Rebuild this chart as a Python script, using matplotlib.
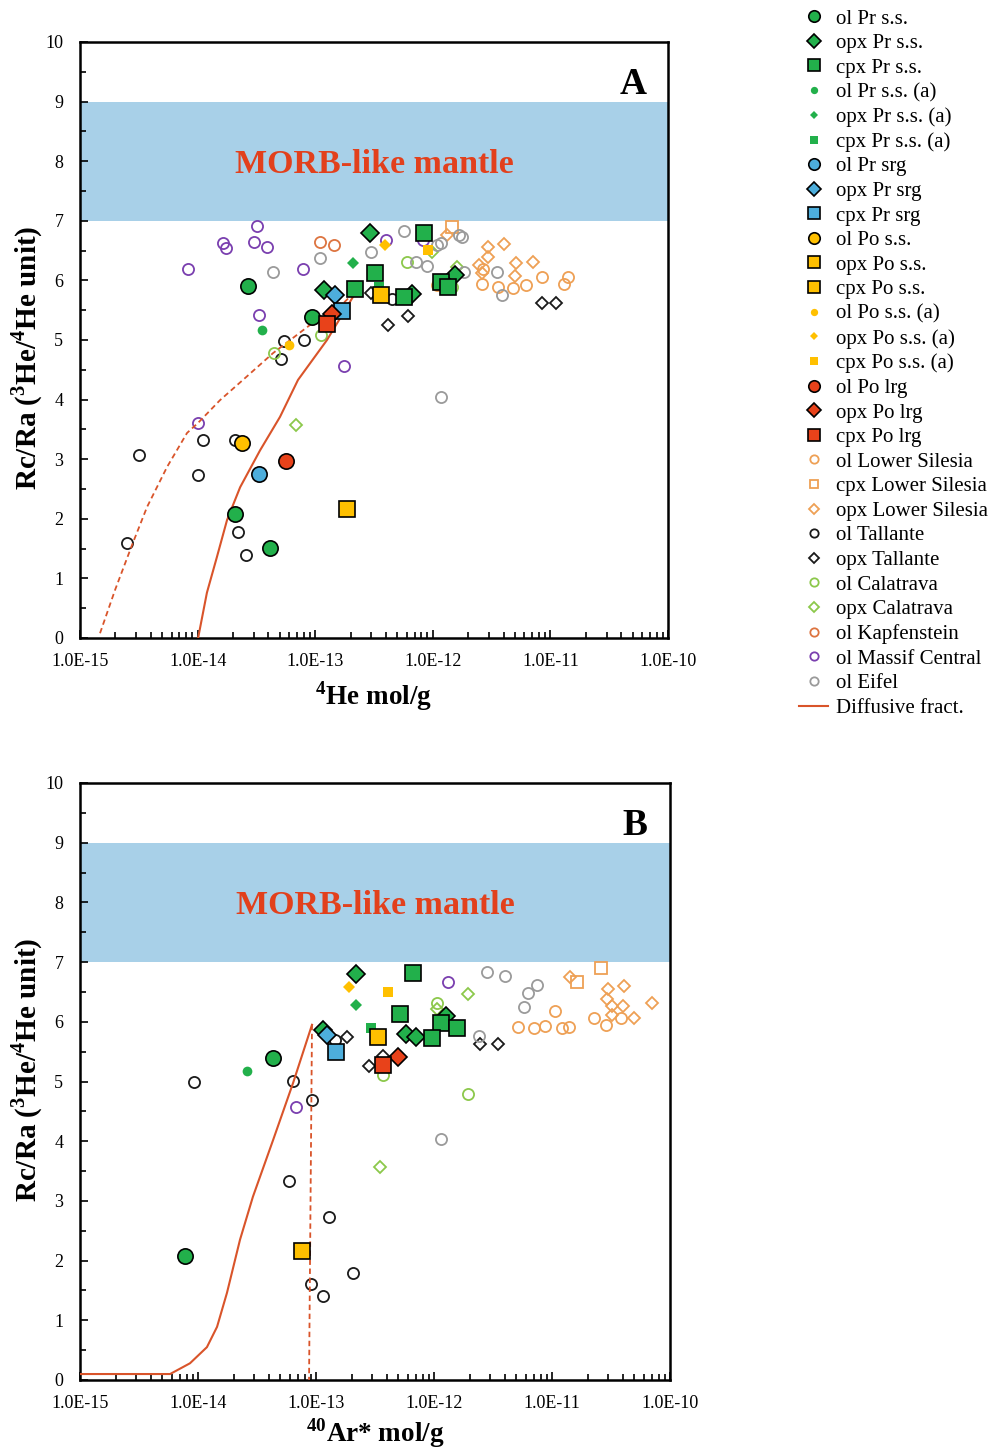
import numpy as np
import matplotlib
matplotlib.use("Agg")
import matplotlib.pyplot as plt
from matplotlib.lines import Line2D
from matplotlib.ticker import FuncFormatter, FixedLocator, LogLocator, MultipleLocator, NullFormatter

plt.rcParams['font.family'] = ['Liberation Serif', 'DejaVu Serif']
plt.rcParams['mathtext.fontset'] = 'custom'
plt.rcParams['mathtext.rm'] = 'Liberation Serif'
plt.rcParams['mathtext.bf'] = 'Liberation Serif:bold'

x_ticks = [1e-15, 1e-14, 1e-13, 1e-12, 1e-11, 1e-10]

# ---- panel A data : 4He mol/g vs Rc/Ra ----
olPrss_A_x = [2.7e-14, 9.4e-14, 2.1e-14, 4.1e-14]
olPrss_A_y = [5.91, 5.39, 2.08, 1.51]
opxPrss_A_x = [2.9e-13, 1.19e-13, 6.65e-13, 1.55e-12]
opxPrss_A_y = [6.80, 5.84, 5.77, 6.09]
cpxPrss_A_x = [2.2e-13, 3.2e-13, 8.4e-13, 5.7e-13, 1.17e-12, 1.35e-12]
cpxPrss_A_y = [5.86, 6.12, 6.80, 5.72, 5.97, 5.89]
olPrssa_A_x, olPrssa_A_y = [3.5e-14], [5.17]
opxPrssa_A_x, opxPrssa_A_y = [2.1e-13], [6.29]
cpxPrssa_A_x, cpxPrssa_A_y = [3.5e-13], [5.89]
olPrsrg_A_x, olPrsrg_A_y = [3.3e-14], [2.75]
opxPrsrg_A_x, opxPrsrg_A_y = [1.47e-13], [5.76]
cpxPrsrg_A_x, cpxPrsrg_A_y = [1.69e-13], [5.49]
olPoss_A_x, olPoss_A_y = [2.4e-14], [3.27]
opxPoss_A_x, opxPoss_A_y = [3.6e-13], [5.76]
cpxPoss_A_x, cpxPoss_A_y = [1.86e-13], [2.16]
olPossa_A_x, olPossa_A_y = [6.0e-14], [4.92]
opxPossa_A_x, opxPossa_A_y = [3.9e-13], [6.59]
cpxPossa_A_x, cpxPossa_A_y = [9.1e-13], [6.51]
olPolrg_A_x, olPolrg_A_y = [5.6e-14], [2.97]
opxPolrg_A_x, opxPolrg_A_y = [1.39e-13], [5.44]
cpxPolrg_A_x, cpxPolrg_A_y = [1.26e-13], [5.27]
olLS_A_x = [1.09e-12, 2.67e-12, 2.62e-12, 3.58e-12, 4.81e-12, 6.2e-12, 8.5e-12, 1.31e-11, 1.41e-11]
olLS_A_y = [5.92, 6.19, 5.94, 5.89, 5.87, 5.92, 6.06, 5.94, 6.06]
cpxLS_A_x, cpxLS_A_y = [1.46e-12], [6.90]
opxLS_A_x = [1.32e-12, 2.94e-12, 4.03e-12, 2.94e-12, 2.47e-12, 2.62e-12, 5.1e-12, 5.0e-12, 7.1e-12]
opxLS_A_y = [6.76, 6.56, 6.61, 6.39, 6.26, 6.12, 6.29, 6.07, 6.31]
olTal_A_x = [3.2e-15, 2.5e-15, 1.11e-14, 1.0e-14, 2.1e-14, 2.2e-14, 2.6e-14, 5.4e-14, 5.1e-14, 8.0e-14, 4.5e-13]
olTal_A_y = [3.07, 1.59, 3.32, 2.73, 3.32, 1.78, 1.39, 4.98, 4.68, 5.00, 5.69]
opxTal_A_x = [4.2e-13, 6.2e-13, 8.5e-12, 1.12e-11, 3.0e-13]
opxTal_A_y = [5.25, 5.40, 5.62, 5.62, 5.79]
olCal_A_x = [4.5e-14, 1.12e-13, 6.0e-13, 1.46e-12]
olCal_A_y = [4.78, 5.08, 6.31, 5.89]
opxCal_A_x = [6.9e-14, 9.8e-13, 1.61e-12]
opxCal_A_y = [3.57, 6.48, 6.22]
olKap_A_x = [1.10e-13, 1.44e-13]
olKap_A_y = [6.64, 6.59]
olMC_A_x = [3.2e-14, 1.64e-14, 1.74e-14, 3.0e-14, 3.9e-14, 8.3e-15, 7.9e-14, 3.3e-14, 1.76e-13, 1.0e-14, 4.0e-13, 8.3e-13]
olMC_A_y = [6.91, 6.63, 6.54, 6.64, 6.56, 6.19, 6.19, 5.42, 4.56, 3.61, 6.68, 6.68]
olEif_A_x = [4.4e-14, 1.10e-13, 3.0e-13, 5.7e-13, 7.2e-13, 8.9e-13, 1.09e-12, 1.17e-12, 1.67e-12,
             1.77e-12, 1.84e-12, 3.5e-12, 3.9e-12, 1.17e-12]
olEif_A_y = [6.14, 6.38, 6.48, 6.83, 6.31, 6.24, 6.59, 6.63, 6.76, 6.73, 6.14, 6.14, 5.76, 4.04]

# diffusive fractionation curves, panel A
diffA_x = [1.01e-14, 1.20e-14, 1.46e-14, 1.78e-14, 2.30e-14, 3.40e-14, 5.02e-14, 7.14e-14, 1.26e-13, 2.09e-13, 2.26e-13]
diffA_y = [0.0, 0.76, 1.36, 1.98, 2.53, 3.15, 3.71, 4.33, 5.00, 5.72, 5.86]
diffA2_x = [1.48e-15, 1.99e-15, 2.77e-15, 3.72e-15, 5.50e-15, 8.13e-15, 1.01e-14, 1.55e-14,
            2.43e-14, 4.38e-14, 9.57e-14, 1.42e-13, 2.26e-13]
diffA2_y = [0.08, 0.81, 1.56, 2.20, 2.87, 3.44, 3.61, 3.99, 4.33, 4.78, 5.29, 5.45, 5.84]

# ---- panel B data : 40Ar* mol/g vs Rc/Ra ----
olPrss_B_x, olPrss_B_y = [4.3e-14, 7.8e-15], [5.39, 2.08]
opxPrss_B_x = [2.2e-13, 5.8e-13, 7.0e-13, 1.26e-12, 1.15e-13]
opxPrss_B_y = [6.80, 5.80, 5.75, 6.10, 5.86]
cpxPrss_B_x = [6.6e-13, 5.2e-13, 1.15e-12, 1.57e-12, 9.6e-13]
cpxPrss_B_y = [6.82, 6.13, 5.98, 5.90, 5.73]
olPrssa_B_x, olPrssa_B_y = [2.6e-14], [5.18]
opxPrssa_B_x, opxPrssa_B_y = [2.2e-13], [6.28]
cpxPrssa_B_x, cpxPrssa_B_y = [2.9e-13], [5.90]
opxPrsrg_B_x, opxPrsrg_B_y = [1.24e-13], [5.78]
cpxPrsrg_B_x, cpxPrsrg_B_y = [1.48e-13], [5.49]
opxPoss_B_x, opxPoss_B_y = [3.35e-13], [5.75]
cpxPoss_B_x, cpxPoss_B_y = [7.6e-14], [2.16]
opxPossa_B_x, opxPossa_B_y = [1.9e-13], [6.58]
cpxPossa_B_x, cpxPossa_B_y = [4.1e-13], [6.50]
opxPolrg_B_x, opxPolrg_B_y = [5.0e-13], [5.41]
cpxPolrg_B_x, cpxPolrg_B_y = [3.7e-13], [5.28]
olLS_B_x = [5.2e-12, 7.0e-12, 8.7e-12, 1.22e-11, 1.39e-11, 1.06e-11, 2.27e-11, 2.87e-11, 3.85e-11]
olLS_B_y = [5.91, 5.90, 5.93, 5.90, 5.91, 6.18, 6.06, 5.95, 6.06]
cpxLS_B_x, cpxLS_B_y = [2.6e-11, 1.63e-11], [6.90, 6.67]
opxLS_B_x = [1.42e-11, 3.0e-11, 4.1e-11, 2.9e-11, 3.2e-11, 4.0e-11, 3.2e-11, 4.95e-11, 7.0e-11]
opxLS_B_y = [6.75, 6.55, 6.60, 6.38, 6.26, 6.26, 6.11, 6.06, 6.31]
olTal_B_x = [9.2e-15, 6.4e-14, 9.2e-14, 5.9e-14, 1.29e-13, 9.1e-14, 1.15e-13, 2.06e-13, 1.45e-13]
olTal_B_y = [4.99, 5.01, 4.69, 3.33, 2.73, 1.61, 1.41, 1.79, 5.69]
opxTal_B_x = [1.83e-13, 2.8e-13, 3.7e-13, 2.45e-12, 3.5e-12]
opxTal_B_y = [5.75, 5.26, 5.43, 5.63, 5.63]
olCal_B_x, olCal_B_y = [1.06e-12, 3.7e-13, 1.94e-12], [6.31, 5.11, 4.79]
opxCal_B_x, opxCal_B_y = [1.06e-12, 1.94e-12, 3.5e-13], [6.21, 6.47, 3.57]
olMC_B_x, olMC_B_y = [1.31e-12, 6.8e-14], [6.67, 4.57]
olEif_B_x = [2.8e-12, 4.0e-12, 7.5e-12, 6.3e-12, 5.8e-12, 2.4e-12, 1.15e-12]
olEif_B_y = [6.83, 6.77, 6.62, 6.48, 6.25, 5.76, 4.04]

diffB_x = [1.0e-15, 5.8e-15, 8.55e-15, 1.19e-14, 1.45e-14, 1.76e-14, 2.27e-14, 2.92e-14, 4.33e-14, 6.38e-14, 9.25e-14]
diffB_y = [0.10, 0.10, 0.28, 0.55, 0.89, 1.46, 2.35, 3.07, 4.02, 4.97, 5.95]
diffB2_x = [9.25e-14, 8.73e-14]
diffB2_y = [5.95, 0.0]

# ---- styles ----
green, blue, yellow, red = '#22B04B', '#4DAEDC', '#FFC000', '#E8421A'
c_ls, c_tal, c_cal, c_kap, c_mc, c_eif = '#EEA055', '#1A1A1A', '#8CC84B', '#DD7440', '#7A3FAF', '#9A9A9A'
diff_col = '#D9542A'

series = [
    # label, marker, size, face, edge, lw, A data, B data
    ('ol Pr s.s.', 'o', 11, green, 'k', 1.2, (olPrss_A_x, olPrss_A_y), (olPrss_B_x, olPrss_B_y)),
    ('opx Pr s.s.', 'D', 9, green, 'k', 1.2, (opxPrss_A_x, opxPrss_A_y), (opxPrss_B_x, opxPrss_B_y)),
    ('cpx Pr s.s.', 's', 11, green, 'k', 1.2, (cpxPrss_A_x, cpxPrss_A_y), (cpxPrss_B_x, cpxPrss_B_y)),
    ('ol Pr s.s. (a)', 'o', 7, green, green, 0, (olPrssa_A_x, olPrssa_A_y), (olPrssa_B_x, olPrssa_B_y)),
    ('opx Pr s.s. (a)', 'D', 6, green, green, 0, (opxPrssa_A_x, opxPrssa_A_y), (opxPrssa_B_x, opxPrssa_B_y)),
    ('cpx Pr s.s. (a)', 's', 7, green, green, 0, (cpxPrssa_A_x, cpxPrssa_A_y), (cpxPrssa_B_x, cpxPrssa_B_y)),
    ('ol Pr srg', 'o', 11, blue, 'k', 1.2, (olPrsrg_A_x, olPrsrg_A_y), ([], [])),
    ('opx Pr srg', 'D', 9, blue, 'k', 1.2, (opxPrsrg_A_x, opxPrsrg_A_y), (opxPrsrg_B_x, opxPrsrg_B_y)),
    ('cpx Pr srg', 's', 11, blue, 'k', 1.2, (cpxPrsrg_A_x, cpxPrsrg_A_y), (cpxPrsrg_B_x, cpxPrsrg_B_y)),
    ('ol Po s.s.', 'o', 11, yellow, 'k', 1.2, (olPoss_A_x, olPoss_A_y), ([], [])),
    ('opx Po s.s.', 's', 11, yellow, 'k', 1.2, (opxPoss_A_x, opxPoss_A_y), (opxPoss_B_x, opxPoss_B_y)),
    ('cpx Po s.s.', 's', 11, yellow, 'k', 1.2, (cpxPoss_A_x, cpxPoss_A_y), (cpxPoss_B_x, cpxPoss_B_y)),
    ('ol Po s.s. (a)', 'o', 7, yellow, yellow, 0, (olPossa_A_x, olPossa_A_y), ([], [])),
    ('opx Po s.s. (a)', 'D', 6, yellow, yellow, 0, (opxPossa_A_x, opxPossa_A_y), (opxPossa_B_x, opxPossa_B_y)),
    ('cpx Po s.s. (a)', 's', 7, yellow, yellow, 0, (cpxPossa_A_x, cpxPossa_A_y), (cpxPossa_B_x, cpxPossa_B_y)),
    ('ol Po lrg', 'o', 11, red, 'k', 1.2, (olPolrg_A_x, olPolrg_A_y), ([], [])),
    ('opx Po lrg', 'D', 9, red, 'k', 1.2, (opxPolrg_A_x, opxPolrg_A_y), (opxPolrg_B_x, opxPolrg_B_y)),
    ('cpx Po lrg', 's', 11, red, 'k', 1.2, (cpxPolrg_A_x, cpxPolrg_A_y), (cpxPolrg_B_x, cpxPolrg_B_y)),
    ('ol Lower Silesia', 'o', 8, 'none', c_ls, 1.3, (olLS_A_x, olLS_A_y), (olLS_B_x, olLS_B_y)),
    ('cpx Lower Silesia', 's', 8, 'none', c_ls, 1.3, (cpxLS_A_x, cpxLS_A_y), (cpxLS_B_x, cpxLS_B_y)),
    ('opx Lower Silesia', 'D', 6.5, 'none', c_ls, 1.3, (opxLS_A_x, opxLS_A_y), (opxLS_B_x, opxLS_B_y)),
    ('ol Tallante', 'o', 8, 'none', c_tal, 1.3, (olTal_A_x, olTal_A_y), (olTal_B_x, olTal_B_y)),
    ('opx Tallante', 'D', 6.5, 'none', c_tal, 1.3, (opxTal_A_x, opxTal_A_y), (opxTal_B_x, opxTal_B_y)),
    ('ol Calatrava', 'o', 8, 'none', c_cal, 1.3, (olCal_A_x, olCal_A_y), (olCal_B_x, olCal_B_y)),
    ('opx Calatrava', 'D', 6.5, 'none', c_cal, 1.3, (opxCal_A_x, opxCal_A_y), (opxCal_B_x, opxCal_B_y)),
    ('ol Kapfenstein', 'o', 8, 'none', c_kap, 1.3, (olKap_A_x, olKap_A_y), ([], [])),
    ('ol Massif Central', 'o', 8, 'none', c_mc, 1.3, (olMC_A_x, olMC_A_y), (olMC_B_x, olMC_B_y)),
    ('ol Eifel', 'o', 8, 'none', c_eif, 1.3, (olEif_A_x, olEif_A_y), (olEif_B_x, olEif_B_y)),
]

fig = plt.figure(figsize=(9.93, 14.54), dpi=100)
axA = fig.add_axes([80 / 993, 1 - 638 / 1454, 588 / 993, 596 / 1454])
axB = fig.add_axes([80 / 993, 1 - 1380 / 1454, 590 / 993, 597 / 1454])

for ax, panel, letter, ylab_y in [(axA, 6, 'A', 0.47), (axB, 7, 'B', 0.52)]:
    ax.axhspan(7, 9, color='#A8D0E8', lw=0, zorder=0)
    ax.text(0.5, 0.795, 'MORB-like mantle', transform=ax.transAxes, ha='center', va='center',
            color='#E2401C', fontsize=24.5, fontweight='bold')
    ax.text(0.94, 0.928, letter, transform=ax.transAxes, ha='center', va='center',
            fontsize=27, fontweight='bold')
    # open (literature) markers first, then filled samples on top
    order = list(range(18, len(series))) + list(range(18))
    for i in order:
        lab, m, ms, fc, ec, lw, dA, dB = series[i]
        d = dA if panel == 6 else dB
        z = 3 if fc == 'none' else 5
        ax.plot(d[0], d[1], linestyle='none', marker=m, markersize=ms, markerfacecolor=fc,
                markeredgecolor=ec, markeredgewidth=lw, zorder=z)
    ax.set_xscale('log')
    ax.set_xlim(1e-15, 1e-10)
    ax.set_ylim(0, 10)
    ax.xaxis.set_major_locator(FixedLocator(x_ticks))
    ax.xaxis.set_minor_locator(LogLocator(base=10, subs=np.arange(2, 10), numticks=20))
    ax.xaxis.set_major_formatter(FuncFormatter(lambda v, p: f'{v:.1E}'))
    ax.xaxis.set_minor_formatter(NullFormatter())
    ax.yaxis.set_major_locator(MultipleLocator(1))
    ax.yaxis.set_minor_locator(MultipleLocator(0.5))
    ax.tick_params(which='both', direction='in', top=False, right=False, labelsize=13, width=1.2)
    ax.tick_params(which='major', length=6)
    ax.tick_params(axis='x', which='major', pad=11)
    ax.tick_params(axis='y', which='major', pad=12)
    ax.tick_params(which='minor', length=4)
    for s in ax.spines.values():
        s.set_linewidth(1.8)
    ax.set_ylabel(r'Rc/Ra ($^{\mathbf{3}}$He/$^{\mathbf{4}}$He unit)', fontsize=21, fontweight='bold')
    ax.yaxis.set_label_coords(-0.06, ylab_y)

axA.plot(diffA_x, diffA_y, color=diff_col, lw=1.5, zorder=4)
axA.plot(diffA2_x, diffA2_y, color=diff_col, lw=1.3, ls=(0, (3, 2)), zorder=4)
axB.plot(diffB_x, diffB_y, color=diff_col, lw=1.5, zorder=4)
axB.plot(diffB2_x, diffB2_y, color=diff_col, lw=1.3, ls=(0, (3, 2)), zorder=4)

axA.set_xlabel(r'$^{\mathbf{4}}$He mol/g', fontsize=19.5, fontweight='bold', labelpad=6)
axB.set_xlabel(r'$^{\mathbf{40}}$Ar* mol/g', fontsize=19.5, fontweight='bold', labelpad=3)

handles = []
for lab, m, ms, fc, ec, lw, dA, dB in series:
    handles.append(Line2D([], [], linestyle='none', marker=m, markersize=ms * 0.75,
                          markerfacecolor=fc, markeredgecolor=ec, markeredgewidth=lw, label=lab))
handles.append(Line2D([], [], color=diff_col, lw=1.5, label='Diffusive fract.'))
fig.legend(handles=handles, loc='upper left', bbox_to_anchor=(799 / 993, 1 - 9 / 1454),
           frameon=False, fontsize=15, handlelength=1.4, handletextpad=0.4,
           labelspacing=0.24, borderaxespad=0, borderpad=0)

fig.savefig('out.png', dpi=100)
